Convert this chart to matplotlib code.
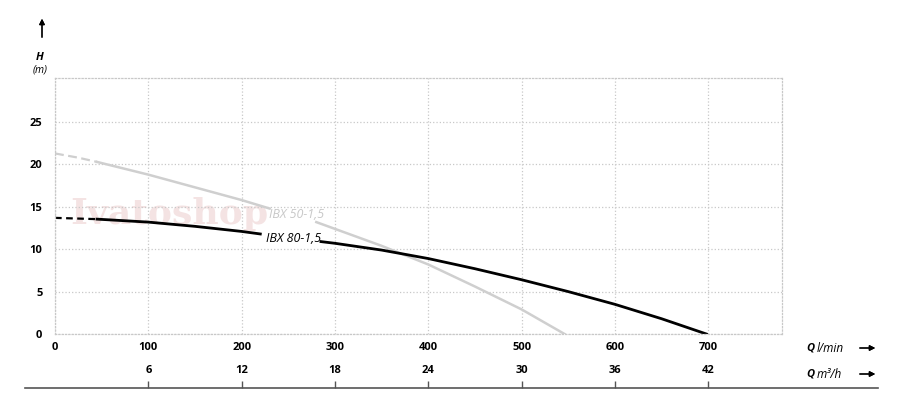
import matplotlib.pyplot as plt

plt.rcParams['font.family'] = ['Open Sans', 'DejaVu Sans']

# curve IBX 50-1,5 (l/min, m)
q50_dash = [0, 25, 45]
h50_dash = [21.3, 20.8, 20.3]
q50_a = [45, 100, 150, 200, 230]
h50_a = [20.3, 18.8, 17.3, 15.8, 14.8]
q50_b = [280, 300, 350, 400, 450, 500, 546]
h50_b = [13.2, 12.4, 10.4, 8.2, 5.6, 2.9, 0.0]

# curve IBX 80-1,5
q80_dash = [0, 45]
h80_dash = [13.7, 13.55]
q80_a = [45, 100, 150, 200, 220]
h80_a = [13.55, 13.2, 12.7, 12.1, 11.8]
q80_b = [285, 300, 350, 400, 450, 500, 550, 600, 650, 698]
h80_b = [10.9, 10.7, 9.9, 8.9, 7.7, 6.4, 5.0, 3.5, 1.8, 0.0]

q_ticks = [0, 100, 200, 300, 400, 500, 600, 700]
h_ticks = [0, 5, 10, 15, 20, 25]
m3h_ticks = [6, 12, 18, 24, 30, 36, 42]

fig = plt.figure(figsize=(9, 4.08), dpi=100)
ax = fig.add_axes([55/900, 1-334/408, 727/900, 256/408])
ax.set_xlim(0, 779)
ax.set_ylim(0, 30.2)

grid_c = '#c8c8c8'
ax.set_xticks(q_ticks)
ax.set_yticks(h_ticks)
ax.grid(True, color=grid_c, linestyle=':', linewidth=0.9)
for s in ax.spines.values():
    s.set_linestyle(':')
    s.set_color(grid_c)
    s.set_linewidth(0.9)
ax.tick_params(length=0, labelsize=8, pad=6)
for lab in ax.get_xticklabels() + ax.get_yticklabels():
    lab.set_fontweight('bold')
ax.tick_params(axis='y', pad=9)

# watermark
ax.text(123, 14.2, 'Ivatoshop', color='#f4e3e3', fontsize=26, family='DejaVu Serif',
        fontweight='bold', ha='center', va='center', zorder=0)

light = '#cfcfcf'
ax.plot(q50_dash, h50_dash, color=light, lw=1.6, ls=(0, (4, 2)))
ax.plot(q50_a, h50_a, color=light, lw=1.8)
ax.plot(q50_b, h50_b, color=light, lw=1.8)
ax.plot(q80_dash, h80_dash, color='black', lw=1.6, ls=(0, (3, 2)))
ax.plot(q80_a, h80_a, color='black', lw=2.0)
ax.plot(q80_b, h80_b, color='black', lw=2.0)

ax.text(229, 14.1, 'IBX 50-1,5', color='#c8c8c8', fontsize=9, style='italic', va='center')
ax.text(226, 11.3, 'IBX 80-1,5', color='black', fontsize=9, style='italic', va='center')

# H axis label and arrow
fig.text(40/900, 1-57/408, 'H', fontsize=8, fontweight='bold', style='italic', ha='center', va='center')
fig.text(40/900, 1-70/408, '(m)', fontsize=7.5, style='italic', ha='center', va='center')
fig.add_artist(plt.annotate('', xy=(42/900, 1-16/408), xytext=(42/900, 1-40/408),
                            xycoords='figure fraction',
                            arrowprops=dict(arrowstyle='-|>', color='black', lw=0.9, mutation_scale=8)))

# second scale m3/h
scale = 727/779
ax2 = fig.add_axes([25/900, 1-388/408, 853/900, 0.001])
ax2.set_xlim((25-55)/scale, (878-55)/scale)
ax2.set_yticks([])
for k in ['left', 'right', 'top']:
    ax2.spines[k].set_visible(False)
ax2.spines['bottom'].set_color('#555555')
ax2.spines['bottom'].set_linewidth(1.2)
ax2.set_xticks([m * 100 / 6 for m in m3h_ticks])
ax2.set_xticklabels([str(m) for m in m3h_ticks], fontweight='bold', fontsize=8)
ax2.tick_params(axis='x', direction='out', length=5, width=1, color='#555555', pad=3,
                top=True, labeltop=True, bottom=False, labelbottom=False)

# Q labels
for y, unit in [(348, 'l/min'), (374, 'm³/h')]:
    fig.text(806/900, 1-y/408, 'Q', fontsize=8, fontweight='bold', style='italic', va='center')
    fig.text(817/900, 1-y/408, unit, fontsize=8.5, style='italic', va='center')
    fig.add_artist(plt.annotate('', xy=(878/900, 1-y/408), xytext=(857/900, 1-y/408),
                                xycoords='figure fraction',
                                arrowprops=dict(arrowstyle='-|>', color='black', lw=0.9, mutation_scale=8)))

fig.savefig('out.png', dpi=100)
